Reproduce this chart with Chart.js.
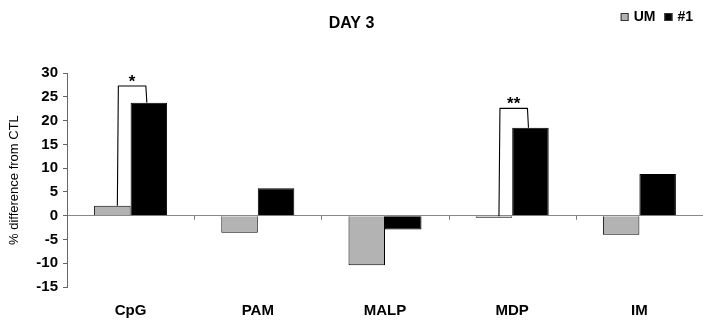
<!DOCTYPE html>
<html>
<head>
<meta charset="utf-8">
<title>DAY 3</title>
<script src="https://cdn.jsdelivr.net/npm/chart.js@4/dist/chart.umd.min.js"></script>
<style>
  html, body { margin: 0; padding: 0; background: #fff; }
  #wrap { width: 703px; height: 320px; }
</style>
</head>
<body>
<div id="wrap"><canvas id="day3Chart"></canvas></div>
<script>
// ---- data ----
const categories = ['CpG', 'PAM', 'MALP', 'MDP', 'IM'];
const umValues = [2.1, -3.6, -10.4, -0.2, -4.0];
const oneValues = [23.8, 5.8, -2.9, 18.5, 8.8];
const yTicks = [-15, -10, -5, 0, 5, 10, 15, 20, 25, 30];

// significance brackets (category index, bracket height, marker)
const sigIndex = [0, 3];
const sigTop = [27.3, 22.6];
const sigLabel = ['*', '**'];

const FONT = 'Liberation Sans, Arial, sans-serif';

// zero line tick marks between categories
const categoryTicks = {
    id: 'categoryTicks',
    afterDatasetsDraw(chart) {
        const { ctx, scales: { x, y } } = chart;
        const y0 = y.getPixelForValue(0);
        ctx.save();
        ctx.strokeStyle = '#777';
        ctx.lineWidth = 1;
        for (let i = 1; i < categories.length; i++) {
            const px = Math.round(x.getPixelForValue(i - 0.5)) + 0.5;
            ctx.beginPath();
            ctx.moveTo(px, y0);
            ctx.lineTo(px, y0 + 4);
            ctx.stroke();
        }
        ctx.restore();
    }
};

// brackets with asterisks over the significant pairs
const sigBrackets = {
    id: 'sigBrackets',
    afterDatasetsDraw(chart) {
        const { ctx, scales: { y } } = chart;
        const m0 = chart.getDatasetMeta(0).data;
        const m1 = chart.getDatasetMeta(1).data;
        ctx.save();
        ctx.strokeStyle = '#000';
        ctx.lineWidth = 1.1;
        ctx.lineJoin = 'round';
        sigIndex.forEach((idx, k) => {
            const a = m0[idx], b = m1[idx];
            const xl = a.x + 5, xr = b.x - 2;
            const top = y.getPixelForValue(sigTop[k]);
            ctx.beginPath();
            ctx.moveTo(xl, Math.min(a.y, a.base));
            ctx.lineTo(xl + 1, top);
            ctx.lineTo(xr - 1, top);
            ctx.lineTo(xr, b.y);
            ctx.stroke();
            ctx.fillStyle = '#000';
            ctx.font = 'bold 17px ' + FONT;
            ctx.textAlign = 'center';
            ctx.textBaseline = 'alphabetic';
            ctx.fillText(sigLabel[k], (xl + xr) / 2, top + 1);
        });
        ctx.restore();
    }
};

// legend in the top right corner
const cornerLegend = {
    id: 'cornerLegend',
    afterDraw(chart) {
        const { ctx } = chart;
        ctx.save();
        ctx.font = 'bold 14px ' + FONT;
        ctx.textBaseline = 'middle';
        ctx.textAlign = 'left';
        let x = chart.width - 10;
        const yc = 17;
        const items = chart.data.datasets.slice().reverse();
        items.forEach(ds => {
            const w = ctx.measureText(ds.label).width;
            x -= w;
            ctx.fillStyle = '#000';
            ctx.fillText(ds.label, x, yc);
            x -= 13;
            ctx.fillStyle = ds.backgroundColor;
            ctx.fillRect(x, yc - 4, 8, 8);
            ctx.strokeStyle = '#333';
            ctx.lineWidth = 1;
            ctx.strokeRect(x + 0.5, yc - 3.5, 7, 7);
            x -= 9;
        });
        ctx.restore();
    }
};

new Chart(document.getElementById('day3Chart'), {
    type: 'bar',
    data: {
        labels: categories,
        datasets: [
            { label: 'UM', data: umValues, backgroundColor: '#b3b3b3', borderColor: '#000', borderWidth: 1, minBarLength: 2 },
            { label: '#1', data: oneValues, backgroundColor: '#000', borderColor: '#000', borderWidth: 1 }
        ]
    },
    options: {
        responsive: true,
        maintainAspectRatio: false,
        animation: false,
        layout: { padding: 0 },
        datasets: { bar: { categoryPercentage: 0.574, barPercentage: 1.0 } },
        plugins: {
            legend: { display: false },
            tooltip: { enabled: false },
            title: {
                display: true,
                text: 'DAY 3',
                color: '#000',
                font: { family: FONT, size: 16, weight: 'bold' },
                padding: { top: 14, bottom: 40 }
            }
        },
        scales: {
            x: {
                afterFit(scale) { scale.height = 33; },
                grid: { display: false, drawTicks: false },
                border: { display: false },
                ticks: { color: '#000', font: { family: FONT, size: 15, weight: 'bold' }, padding: 15 }
            },
            y: {
                min: -15,
                max: 30,
                afterFit(scale) { scale.width = 67; },
                afterBuildTicks(scale) { scale.ticks = yTicks.map(v => ({ value: v })); },
                border: { display: true, color: '#666', width: 1 },
                grid: {
                    color: c => (c.tick && c.tick.value === 0 ? '#888' : 'transparent'),
                    tickColor: '#666',
                    tickLength: 4
                },
                ticks: { color: '#000', font: { family: FONT, size: 15, weight: 'bold' }, padding: 5 },
                title: {
                    display: true,
                    text: '% difference from CTL',
                    color: '#000',
                    font: { family: FONT, size: 13 },
                    padding: { top: 7, bottom: 0 }
                }
            }
        }
    },
    plugins: [categoryTicks, sigBrackets, cornerLegend]
});
</script>
</body>
</html>
